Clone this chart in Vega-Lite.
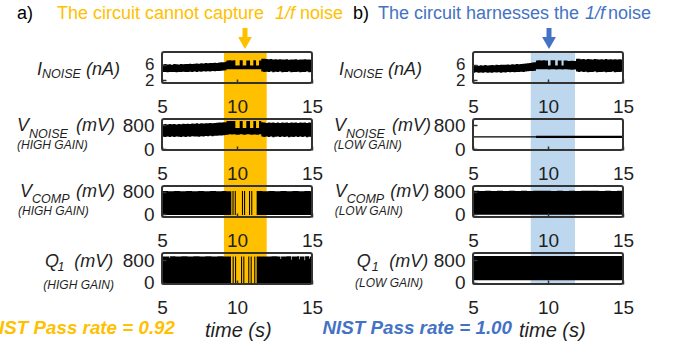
{
  "$schema": "https://vega.github.io/schema/vega-lite/v6.json",
  "padding": {"left": -15, "top": 5, "right": 0, "bottom": 0},
  "config": {
    "font": "Liberation Sans",
    "view": {"stroke": null},
    "axis": {"grid": false, "domain": false, "ticks": true, "tickSize": -4, "tickColor": "#333", "tickWidth": 1.5,
             "labelFontSize": 19, "labelColor": "#1f1f1f", "zindex": 2, "labelFlush": false, "labelOverlap": false},
    "axisX": {"labelPadding": 18.6},
    "axisY": {"labelPadding": 12},
    "text": {"baseline": "alphabetic", "align": "left", "color": "#1f1f1f"}
  },
  "bounds": "flush",
  "columns": 2,
  "spacing": {"row": 36, "column": 161},
  "resolve": {"scale": {"x": "independent", "y": "independent"}},
  "datasets": {
    "bandL": [{"start": 9.13, "end": 11.98}],
    "bandR": [{"start": 8.85, "end": 11.8}],
    "iL": [
      {"t":5.0,"lo":4.15,"hi":6.1},{"t":5.15,"lo":4.2,"hi":6.2},{"t":5.3,"lo":4.1,"hi":6.1},{"t":5.45,"lo":4.2,"hi":6.15},
      {"t":5.6,"lo":4.15,"hi":6.05},{"t":5.75,"lo":4.2,"hi":6.2},{"t":5.9,"lo":4.1,"hi":6.15},{"t":6.05,"lo":4.2,"hi":6.1},
      {"t":6.2,"lo":4.15,"hi":6.2},{"t":6.35,"lo":4.25,"hi":6.15},{"t":6.5,"lo":4.2,"hi":6.25},{"t":6.65,"lo":4.15,"hi":6.2},
      {"t":6.8,"lo":4.25,"hi":6.3},{"t":6.95,"lo":4.2,"hi":6.25},{"t":7.1,"lo":4.3,"hi":6.3},{"t":7.25,"lo":4.2,"hi":6.35},
      {"t":7.4,"lo":4.3,"hi":6.3},{"t":7.55,"lo":4.25,"hi":6.4},{"t":7.7,"lo":4.35,"hi":6.35},{"t":7.85,"lo":4.3,"hi":6.45},
      {"t":8.0,"lo":4.35,"hi":6.4},{"t":8.15,"lo":4.3,"hi":6.5},{"t":8.3,"lo":4.4,"hi":6.45},{"t":8.45,"lo":4.35,"hi":6.55},
      {"t":8.6,"lo":4.45,"hi":6.5},{"t":8.75,"lo":4.4,"hi":6.6},{"t":8.9,"lo":4.5,"hi":6.65},{"t":9.05,"lo":4.55,"hi":6.7},
      {"t":9.2,"lo":4.6,"hi":6.8},{"t":9.3,"lo":4.85,"hi":7.15},{"t":9.45,"lo":4.9,"hi":7.2},{"t":9.6,"lo":4.85,"hi":7.15},
      {"t":9.75,"lo":4.9,"hi":7.2},{"t":9.89,"lo":4.85,"hi":5.85},{"t":10.18,"lo":4.9,"hi":7.2},{"t":10.38,"lo":4.85,"hi":5.85},
      {"t":10.62,"lo":4.9,"hi":7.15},{"t":10.87,"lo":4.85,"hi":5.85},{"t":11.09,"lo":4.9,"hi":7.2},{"t":11.27,"lo":4.85,"hi":5.85},
      {"t":11.47,"lo":4.9,"hi":7.15},{"t":11.62,"lo":4.3,"hi":7.6},{"t":11.75,"lo":4.2,"hi":7.55},{"t":11.9,"lo":4.25,"hi":7.5},
      {"t":12.05,"lo":4.15,"hi":7.45},{"t":12.2,"lo":4.3,"hi":7.5},{"t":12.35,"lo":4.1,"hi":7.4},{"t":12.5,"lo":4.25,"hi":7.45},
      {"t":12.65,"lo":4.15,"hi":7.35},{"t":12.8,"lo":4.3,"hi":7.45},{"t":12.95,"lo":4.1,"hi":7.4},{"t":13.1,"lo":4.2,"hi":7.35},
      {"t":13.25,"lo":4.15,"hi":7.45},{"t":13.4,"lo":4.3,"hi":7.3},{"t":13.55,"lo":4.1,"hi":7.4},{"t":13.7,"lo":4.2,"hi":7.35},
      {"t":13.85,"lo":4.15,"hi":7.45},{"t":14.0,"lo":4.25,"hi":7.3},{"t":14.15,"lo":4.1,"hi":7.4},{"t":14.3,"lo":4.2,"hi":7.35},
      {"t":14.45,"lo":4.15,"hi":7.45},{"t":14.6,"lo":4.3,"hi":7.35},{"t":14.75,"lo":4.1,"hi":7.4},{"t":14.9,"lo":4.2,"hi":7.3},
      {"t":15.0,"lo":4.2,"hi":7.3}
    ],
    "iR": [
      {"t":5.0,"lo":4.0,"hi":5.85},{"t":5.15,"lo":4.1,"hi":5.95},{"t":5.3,"lo":3.95,"hi":5.8},{"t":5.45,"lo":4.05,"hi":5.9},
      {"t":5.6,"lo":4.0,"hi":5.85},{"t":5.75,"lo":4.1,"hi":5.95},{"t":5.9,"lo":3.95,"hi":5.85},{"t":6.05,"lo":4.05,"hi":5.9},
      {"t":6.2,"lo":4.0,"hi":5.95},{"t":6.35,"lo":4.1,"hi":5.9},{"t":6.5,"lo":4.05,"hi":6.0},{"t":6.65,"lo":4.1,"hi":5.95},
      {"t":6.8,"lo":4.0,"hi":6.0},{"t":6.95,"lo":4.1,"hi":6.05},{"t":7.1,"lo":4.05,"hi":6.0},{"t":7.25,"lo":4.15,"hi":6.1},
      {"t":7.4,"lo":4.1,"hi":6.05},{"t":7.55,"lo":4.15,"hi":6.15},{"t":7.7,"lo":4.1,"hi":6.1},{"t":7.85,"lo":4.2,"hi":6.2},
      {"t":8.0,"lo":4.15,"hi":6.15},{"t":8.15,"lo":4.25,"hi":6.25},{"t":8.3,"lo":4.2,"hi":6.3},{"t":8.45,"lo":4.3,"hi":6.35},
      {"t":8.6,"lo":4.35,"hi":6.4},{"t":8.75,"lo":4.4,"hi":6.5},{"t":8.9,"lo":4.45,"hi":6.6},{"t":9.05,"lo":4.5,"hi":6.7},
      {"t":9.2,"lo":4.85,"hi":7.15},{"t":9.35,"lo":4.9,"hi":7.2},{"t":9.5,"lo":4.85,"hi":7.15},{"t":9.65,"lo":4.9,"hi":7.2},
      {"t":9.8,"lo":4.85,"hi":7.15},{"t":10.0,"lo":4.8,"hi":5.85},{"t":10.17,"lo":4.9,"hi":7.2},{"t":10.48,"lo":4.8,"hi":5.85},
      {"t":10.65,"lo":4.9,"hi":7.15},{"t":10.9,"lo":4.8,"hi":5.85},{"t":11.04,"lo":4.85,"hi":7.15},{"t":11.3,"lo":4.8,"hi":7.0},
      {"t":11.5,"lo":4.75,"hi":7.05},{"t":11.7,"lo":4.8,"hi":7.0},{"t":11.87,"lo":4.3,"hi":7.6},{"t":12.0,"lo":4.2,"hi":7.55},
      {"t":12.15,"lo":4.3,"hi":7.45},{"t":12.3,"lo":4.15,"hi":7.5},{"t":12.45,"lo":4.25,"hi":7.4},{"t":12.6,"lo":4.1,"hi":7.5},
      {"t":12.75,"lo":4.2,"hi":7.45},{"t":12.9,"lo":4.15,"hi":7.4},{"t":13.05,"lo":4.3,"hi":7.5},{"t":13.2,"lo":4.1,"hi":7.45},
      {"t":13.35,"lo":4.2,"hi":7.35},{"t":13.5,"lo":4.15,"hi":7.45},{"t":13.65,"lo":4.25,"hi":7.4},{"t":13.8,"lo":4.1,"hi":7.5},
      {"t":13.95,"lo":4.2,"hi":7.35},{"t":14.1,"lo":4.15,"hi":7.45},{"t":14.25,"lo":4.3,"hi":7.4},{"t":14.4,"lo":4.1,"hi":7.45},
      {"t":14.55,"lo":4.2,"hi":7.35},{"t":14.7,"lo":4.15,"hi":7.45},{"t":14.85,"lo":4.25,"hi":7.4},{"t":15.0,"lo":4.2,"hi":7.4}
    ],
    "vL": [
      {"t":5.0,"lo":410,"hi":820},{"t":5.15,"lo":400,"hi":830},{"t":5.3,"lo":420,"hi":815},{"t":5.45,"lo":405,"hi":835},
      {"t":5.6,"lo":415,"hi":825},{"t":5.75,"lo":400,"hi":830},{"t":5.9,"lo":420,"hi":820},{"t":6.05,"lo":410,"hi":835},
      {"t":6.2,"lo":400,"hi":825},{"t":6.35,"lo":415,"hi":840},{"t":6.5,"lo":405,"hi":830},{"t":6.65,"lo":420,"hi":845},
      {"t":6.8,"lo":410,"hi":835},{"t":6.95,"lo":425,"hi":850},{"t":7.1,"lo":415,"hi":840},{"t":7.25,"lo":420,"hi":855},
      {"t":7.4,"lo":410,"hi":845},{"t":7.55,"lo":430,"hi":855},{"t":7.7,"lo":420,"hi":850},{"t":7.85,"lo":435,"hi":860},
      {"t":8.0,"lo":425,"hi":855},{"t":8.15,"lo":440,"hi":865},{"t":8.3,"lo":430,"hi":860},{"t":8.45,"lo":445,"hi":870},
      {"t":8.6,"lo":440,"hi":875},{"t":8.75,"lo":450,"hi":880},{"t":8.9,"lo":455,"hi":885},{"t":9.05,"lo":460,"hi":890},
      {"t":9.2,"lo":465,"hi":895},{"t":9.3,"lo":480,"hi":930},{"t":9.45,"lo":490,"hi":935},{"t":9.6,"lo":485,"hi":930},
      {"t":9.75,"lo":490,"hi":935},{"t":9.89,"lo":480,"hi":700},{"t":10.18,"lo":490,"hi":935},{"t":10.38,"lo":480,"hi":700},
      {"t":10.62,"lo":490,"hi":930},{"t":10.87,"lo":480,"hi":700},{"t":11.09,"lo":485,"hi":935},{"t":11.27,"lo":480,"hi":700},
      {"t":11.47,"lo":490,"hi":930},{"t":11.62,"lo":420,"hi":890},{"t":11.75,"lo":400,"hi":880},{"t":11.9,"lo":415,"hi":870},
      {"t":12.05,"lo":400,"hi":885},{"t":12.2,"lo":420,"hi":875},{"t":12.35,"lo":395,"hi":880},{"t":12.5,"lo":410,"hi":870},
      {"t":12.65,"lo":420,"hi":880},{"t":12.8,"lo":400,"hi":870},{"t":12.95,"lo":415,"hi":885},{"t":13.1,"lo":405,"hi":875},
      {"t":13.25,"lo":420,"hi":880},{"t":13.4,"lo":395,"hi":870},{"t":13.55,"lo":410,"hi":885},{"t":13.7,"lo":400,"hi":875},
      {"t":13.85,"lo":420,"hi":880},{"t":14.0,"lo":405,"hi":870},{"t":14.15,"lo":415,"hi":885},{"t":14.3,"lo":400,"hi":875},
      {"t":14.45,"lo":420,"hi":880},{"t":14.6,"lo":395,"hi":870},{"t":14.75,"lo":410,"hi":885},{"t":14.9,"lo":400,"hi":875},
      {"t":15.0,"lo":410,"hi":880}
    ],
    "vR": [
      {"t":5.0,"lo":385,"hi":430},{"t":9.2,"lo":370,"hi":445},{"t":15.0,"lo":370,"hi":445}
    ],
    "cL": [
      {"t":5.0,"lo":-25,"hi":820},{"t":5.4,"lo":-25,"hi":814},{"t":5.8,"lo":-25,"hi":824},{"t":6.2,"lo":-25,"hi":817},
      {"t":6.6,"lo":-25,"hi":822},{"t":7.0,"lo":-25,"hi":815},{"t":7.4,"lo":-25,"hi":825},{"t":7.8,"lo":-25,"hi":818},
      {"t":8.2,"lo":-25,"hi":823},{"t":8.6,"lo":-25,"hi":816},{"t":9.0,"lo":-25,"hi":821},{"t":9.3,"lo":-25,"hi":817},
      {"t":9.62,"lo":-25,"hi":-25},{"t":9.7,"lo":-25,"hi":820},{"t":9.77,"lo":-25,"hi":-25},{"t":9.85,"lo":-25,"hi":820},
      {"t":9.92,"lo":-25,"hi":-25},{"t":10.33,"lo":-25,"hi":820},{"t":10.4,"lo":-25,"hi":-25},{"t":10.47,"lo":-25,"hi":820},
      {"t":10.54,"lo":-25,"hi":-25},{"t":10.8,"lo":-25,"hi":820},{"t":10.87,"lo":-25,"hi":-25},{"t":10.95,"lo":-25,"hi":820},
      {"t":11.02,"lo":-25,"hi":-25},{"t":11.31,"lo":-25,"hi":822},{"t":11.7,"lo":-25,"hi":816},{"t":12.1,"lo":-25,"hi":824},
      {"t":12.5,"lo":-25,"hi":817},{"t":12.9,"lo":-25,"hi":822},{"t":13.3,"lo":-25,"hi":815},{"t":13.7,"lo":-25,"hi":823},
      {"t":14.1,"lo":-25,"hi":818},{"t":14.5,"lo":-25,"hi":824},{"t":14.9,"lo":-25,"hi":817},{"t":15.0,"lo":-25,"hi":820}
    ],
    "cR": [
      {"t":5.0,"lo":-20,"hi":830},{"t":5.4,"lo":-20,"hi":825},{"t":5.8,"lo":-20,"hi":832},{"t":6.2,"lo":-20,"hi":826},
      {"t":6.6,"lo":-20,"hi":830},{"t":7.0,"lo":-20,"hi":824},{"t":7.4,"lo":-20,"hi":831},{"t":7.8,"lo":-20,"hi":827},
      {"t":8.2,"lo":-20,"hi":830},{"t":8.6,"lo":-20,"hi":825},{"t":9.0,"lo":-20,"hi":832},{"t":9.4,"lo":-20,"hi":828},
      {"t":9.8,"lo":-20,"hi":830},{"t":10.2,"lo":-20,"hi":826},{"t":10.6,"lo":-20,"hi":831},{"t":11.0,"lo":-20,"hi":827},
      {"t":11.4,"lo":-20,"hi":830},{"t":11.8,"lo":-20,"hi":825},{"t":12.2,"lo":-20,"hi":832},{"t":12.6,"lo":-20,"hi":828},
      {"t":13.0,"lo":-20,"hi":830},{"t":13.4,"lo":-20,"hi":826},{"t":13.8,"lo":-20,"hi":831},{"t":14.2,"lo":-20,"hi":827},
      {"t":14.6,"lo":-20,"hi":830},{"t":15.0,"lo":-20,"hi":830}
    ],
    "qL": [
      {"t":5.0,"lo":-15,"hi":940},{"t":5.3,"lo":-15,"hi":935},{"t":5.5,"lo":-15,"hi":880},{"t":5.54,"lo":-15,"hi":942},
      {"t":5.9,"lo":-15,"hi":936},{"t":6.3,"lo":-15,"hi":944},{"t":6.7,"lo":-15,"hi":938},{"t":7.1,"lo":-15,"hi":943},
      {"t":7.5,"lo":-15,"hi":936},{"t":7.9,"lo":-15,"hi":941},{"t":8.3,"lo":-15,"hi":937},{"t":8.7,"lo":-15,"hi":944},
      {"t":9.1,"lo":-15,"hi":938},{"t":9.6,"lo":-15,"hi":-15},{"t":9.71,"lo":-15,"hi":940},{"t":9.78,"lo":-15,"hi":-15},
      {"t":9.87,"lo":-15,"hi":940},{"t":9.94,"lo":-15,"hi":-15},{"t":10.27,"lo":-15,"hi":940},{"t":10.34,"lo":-15,"hi":-15},
      {"t":10.42,"lo":-15,"hi":940},{"t":10.49,"lo":-15,"hi":-15},{"t":10.75,"lo":-15,"hi":940},{"t":10.82,"lo":-15,"hi":-15},
      {"t":10.91,"lo":-15,"hi":940},{"t":10.98,"lo":-15,"hi":-15},{"t":11.15,"lo":-15,"hi":940},{"t":11.22,"lo":-15,"hi":-15},
      {"t":11.31,"lo":-15,"hi":940},{"t":11.8,"lo":-15,"hi":936},{"t":12.3,"lo":-15,"hi":943},{"t":12.7,"lo":-15,"hi":937},
      {"t":12.9,"lo":-15,"hi":850},{"t":12.94,"lo":-15,"hi":940},{"t":13.3,"lo":-15,"hi":944},{"t":13.6,"lo":-15,"hi":820},
      {"t":13.64,"lo":-15,"hi":938},{"t":14.0,"lo":-15,"hi":942},{"t":14.15,"lo":-15,"hi":840},{"t":14.19,"lo":-15,"hi":937},
      {"t":14.5,"lo":-15,"hi":800},{"t":14.54,"lo":-15,"hi":941},{"t":14.8,"lo":-15,"hi":860},{"t":14.84,"lo":-15,"hi":938},
      {"t":15.0,"lo":-15,"hi":940}
    ],
    "qR": [
      {"t":5.0,"lo":90,"hi":955},{"t":5.5,"lo":90,"hi":950},{"t":6.0,"lo":90,"hi":958},{"t":6.5,"lo":90,"hi":952},
      {"t":7.0,"lo":90,"hi":956},{"t":7.5,"lo":90,"hi":951},{"t":8.0,"lo":90,"hi":957},{"t":8.5,"lo":90,"hi":953},
      {"t":9.0,"lo":90,"hi":955},{"t":9.5,"lo":90,"hi":950},{"t":10.0,"lo":90,"hi":958},{"t":10.5,"lo":90,"hi":952},
      {"t":11.0,"lo":90,"hi":956},{"t":11.5,"lo":90,"hi":951},{"t":12.0,"lo":90,"hi":957},{"t":12.5,"lo":90,"hi":953},
      {"t":13.0,"lo":90,"hi":955},{"t":13.5,"lo":90,"hi":950},{"t":14.0,"lo":90,"hi":958},{"t":14.5,"lo":90,"hi":952},
      {"t":15.0,"lo":90,"hi":955}
    ]
  },
  "concat": [
    {
      "width": 150, "height": 31,
      "layer": [
        {"data": {"name": "bandL"}, "mark": {"type": "rect", "color": "#FFC000"},
         "encoding": {
           "x": {"field": "start", "type": "quantitative", "scale": {"domain": [5, 15], "nice": false, "zero": false}, "axis": {"values": [5, 10, 15], "title": null, "zindex": 2}},
           "x2": {"field": "end"},
           "y": {"datum": 9.3, "type": "quantitative", "scale": {"domain": [1.35, 9.3], "nice": false, "zero": false}, "axis": {"values": [2, 6], "title": null, "zindex": 2, "labelFontSize": 17}},
           "y2": {"datum": -7.88}}},
        {"data": {"name": "iL"}, "mark": {"type": "area", "interpolate": "step-after", "color": "#000"},
         "encoding": {"x": {"field": "t", "type": "quantitative"}, "y": {"field": "hi", "type": "quantitative"}, "y2": {"field": "lo"}}},
        {"data": {"values": [{}]}, "mark": {"type": "rect", "filled": false, "stroke": "#333", "strokeWidth": 2, "cornerRadius": 2},
         "encoding": {"x": {"datum": 5}, "x2": {"datum": 15}, "y": {"datum": 9.3}, "y2": {"datum": 1.35}}},
        {"data": {"values": [{}]}, "mark": {"type": "text", "fontSize": 18, "color": "#000"},
         "encoding": {"x": {"datum": -4.667}, "y": {"datum": 17.68}, "text": {"value": "a)"}}},
        {"data": {"values": [{}]}, "mark": {"type": "text", "fontSize": 18, "color": "#FFC000"},
         "encoding": {"x": {"datum": -2.0}, "y": {"datum": 17.68}, "text": {"value": "The circuit cannot capture"}}},
        {"data": {"values": [{}]}, "mark": {"type": "text", "fontSize": 18, "fontStyle": "italic", "color": "#FFC000"},
         "encoding": {"x": {"datum": 12.533}, "y": {"datum": 17.68}, "text": {"value": "1/f"}}},
        {"data": {"values": [{}]}, "mark": {"type": "text", "fontSize": 18, "color": "#FFC000"},
         "encoding": {"x": {"datum": 14.2}, "y": {"datum": 17.68}, "text": {"value": "noise"}}},
        {"data": {"values": [{}]}, "mark": {"type": "rule", "color": "#FFC000", "strokeWidth": 5},
         "encoding": {"x": {"datum": 10.533}, "y": {"datum": 15.45}, "y2": {"datum": 12.3}}},
        {"data": {"values": [{}]}, "mark": {"type": "point", "shape": "triangle-down", "filled": true, "opacity": 1, "color": "#FFC000", "size": 190},
         "encoding": {"x": {"datum": 10.533}, "y": {"datum": 11.6}}},
        {"data": {"values": [{}]}, "mark": {"type": "text", "fontSize": 18, "fontStyle": "italic"},
         "encoding": {"x": {"datum": -3.333}, "y": {"datum": 3.4}, "text": {"value": "I"}}},
        {"data": {"values": [{}]}, "mark": {"type": "text", "fontSize": 12.5, "fontStyle": "italic"},
         "encoding": {"x": {"datum": -3.0}, "y": {"datum": 2.71}, "text": {"value": "NOISE"}}},
        {"data": {"values": [{}]}, "mark": {"type": "text", "fontSize": 18, "fontStyle": "italic", "align": "right"},
         "encoding": {"x": {"datum": 2.2}, "y": {"datum": 3.4}, "text": {"value": "(nA)"}}}
      ]
    },
    {
      "width": 150, "height": 31,
      "layer": [
        {"data": {"name": "bandR"}, "mark": {"type": "rect", "color": "#BDD7EE"},
         "encoding": {
           "x": {"field": "start", "type": "quantitative", "scale": {"domain": [5, 15], "nice": false, "zero": false}, "axis": {"values": [5, 10, 15], "title": null, "zindex": 2}},
           "x2": {"field": "end"},
           "y": {"datum": 9.3, "type": "quantitative", "scale": {"domain": [1.35, 9.3], "nice": false, "zero": false}, "axis": {"values": [2, 6], "title": null, "zindex": 2, "labelFontSize": 17}},
           "y2": {"datum": -7.88}}},
        {"data": {"name": "iR"}, "mark": {"type": "area", "interpolate": "step-after", "color": "#000"},
         "encoding": {"x": {"field": "t", "type": "quantitative"}, "y": {"field": "hi", "type": "quantitative"}, "y2": {"field": "lo"}}},
        {"data": {"values": [{}]}, "mark": {"type": "rect", "filled": false, "stroke": "#333", "strokeWidth": 2, "cornerRadius": 2},
         "encoding": {"x": {"datum": 5}, "x2": {"datum": 15}, "y": {"datum": 9.3}, "y2": {"datum": 1.35}}},
        {"data": {"values": [{}]}, "mark": {"type": "text", "fontSize": 18, "color": "#000"},
         "encoding": {"x": {"datum": -3.0}, "y": {"datum": 17.68}, "text": {"value": "b)"}}},
        {"data": {"values": [{}]}, "mark": {"type": "text", "fontSize": 18, "color": "#4472C4"},
         "encoding": {"x": {"datum": -1.333}, "y": {"datum": 17.68}, "text": {"value": "The circuit harnesses the"}}},
        {"data": {"values": [{}]}, "mark": {"type": "text", "fontSize": 18, "fontStyle": "italic", "color": "#4472C4"},
         "encoding": {"x": {"datum": 12.467}, "y": {"datum": 17.68}, "text": {"value": "1/f"}}},
        {"data": {"values": [{}]}, "mark": {"type": "text", "fontSize": 18, "color": "#4472C4"},
         "encoding": {"x": {"datum": 14.0}, "y": {"datum": 17.68}, "text": {"value": "noise"}}},
        {"data": {"values": [{}]}, "mark": {"type": "rule", "color": "#4472C4", "strokeWidth": 5},
         "encoding": {"x": {"datum": 10.067}, "y": {"datum": 15.45}, "y2": {"datum": 12.3}}},
        {"data": {"values": [{}]}, "mark": {"type": "point", "shape": "triangle-down", "filled": true, "opacity": 1, "color": "#4472C4", "size": 190},
         "encoding": {"x": {"datum": 10.067}, "y": {"datum": 11.6}}},
        {"data": {"values": [{}]}, "mark": {"type": "text", "fontSize": 18, "fontStyle": "italic"},
         "encoding": {"x": {"datum": -3.933}, "y": {"datum": 3.4}, "text": {"value": "I"}}},
        {"data": {"values": [{}]}, "mark": {"type": "text", "fontSize": 12.5, "fontStyle": "italic"},
         "encoding": {"x": {"datum": -3.6}, "y": {"datum": 2.71}, "text": {"value": "NOISE"}}},
        {"data": {"values": [{}]}, "mark": {"type": "text", "fontSize": 18, "fontStyle": "italic", "align": "right"},
         "encoding": {"x": {"datum": 1.6}, "y": {"datum": 3.4}, "text": {"value": "(nA)"}}}
      ]
    },
    {
      "width": 150, "height": 31,
      "layer": [
        {"data": {"name": "bandL"}, "mark": {"type": "rect", "color": "#FFC000"},
         "encoding": {
           "x": {"field": "start", "type": "quantitative", "scale": {"domain": [5, 15], "nice": false, "zero": false}, "axis": {"values": [5, 10, 15], "title": null, "zindex": 2}},
           "x2": {"field": "end"},
           "y": {"datum": 1000, "type": "quantitative", "scale": {"domain": [-30, 1000], "nice": false, "zero": false}, "axis": {"values": [0, 800], "title": null, "zindex": 2}},
           "y2": {"datum": -1226}}},
        {"data": {"name": "vL"}, "mark": {"type": "area", "interpolate": "step-after", "color": "#000"},
         "encoding": {"x": {"field": "t", "type": "quantitative"}, "y": {"field": "hi", "type": "quantitative"}, "y2": {"field": "lo"}}},
        {"data": {"values": [{}]}, "mark": {"type": "rect", "filled": false, "stroke": "#333", "strokeWidth": 2, "cornerRadius": 2},
         "encoding": {"x": {"datum": 5}, "x2": {"datum": 15}, "y": {"datum": 1000}, "y2": {"datum": -30}}},
        {"data": {"values": [{}]}, "mark": {"type": "text", "fontSize": 18, "fontStyle": "italic"},
         "encoding": {"x": {"datum": -4.667}, "y": {"datum": 585}, "text": {"value": "V"}}},
        {"data": {"values": [{}]}, "mark": {"type": "text", "fontSize": 12.5, "fontStyle": "italic"},
         "encoding": {"x": {"datum": -3.867}, "y": {"datum": 379}, "text": {"value": "NOISE"}}},
        {"data": {"values": [{}]}, "mark": {"type": "text", "fontSize": 18, "fontStyle": "italic", "align": "right"},
         "encoding": {"x": {"datum": 1.867}, "y": {"datum": 585}, "text": {"value": "(mV)"}}},
        {"data": {"values": [{}]}, "mark": {"type": "text", "fontSize": 12, "fontStyle": "italic"},
         "encoding": {"x": {"datum": -4.667}, "y": {"datum": -10}, "text": {"value": "(HIGH GAIN)"}}}
      ]
    },
    {
      "width": 150, "height": 31,
      "layer": [
        {"data": {"name": "bandR"}, "mark": {"type": "rect", "color": "#BDD7EE"},
         "encoding": {
           "x": {"field": "start", "type": "quantitative", "scale": {"domain": [5, 15], "nice": false, "zero": false}, "axis": {"values": [5, 10, 15], "title": null, "zindex": 2}},
           "x2": {"field": "end"},
           "y": {"datum": 1000, "type": "quantitative", "scale": {"domain": [-30, 1000], "nice": false, "zero": false}, "axis": {"values": [0, 800], "title": null, "zindex": 2}},
           "y2": {"datum": -1226}}},
        {"data": {"name": "vR"}, "mark": {"type": "area", "interpolate": "step-after", "color": "#000"},
         "encoding": {"x": {"field": "t", "type": "quantitative"}, "y": {"field": "hi", "type": "quantitative"}, "y2": {"field": "lo"}}},
        {"data": {"values": [{}]}, "mark": {"type": "rect", "filled": false, "stroke": "#333", "strokeWidth": 2, "cornerRadius": 2},
         "encoding": {"x": {"datum": 5}, "x2": {"datum": 15}, "y": {"datum": 1000}, "y2": {"datum": -30}}},
        {"data": {"values": [{}]}, "mark": {"type": "text", "fontSize": 18, "fontStyle": "italic"},
         "encoding": {"x": {"datum": -4.267}, "y": {"datum": 585}, "text": {"value": "V"}}},
        {"data": {"values": [{}]}, "mark": {"type": "text", "fontSize": 12.5, "fontStyle": "italic"},
         "encoding": {"x": {"datum": -3.467}, "y": {"datum": 379}, "text": {"value": "NOISE"}}},
        {"data": {"values": [{}]}, "mark": {"type": "text", "fontSize": 18, "fontStyle": "italic", "align": "right"},
         "encoding": {"x": {"datum": 2.2}, "y": {"datum": 585}, "text": {"value": "(mV)"}}},
        {"data": {"values": [{}]}, "mark": {"type": "text", "fontSize": 12, "fontStyle": "italic"},
         "encoding": {"x": {"datum": -4.287}, "y": {"datum": -10}, "text": {"value": "(LOW GAIN)"}}}
      ]
    },
    {
      "width": 150, "height": 31,
      "layer": [
        {"data": {"name": "bandL"}, "mark": {"type": "rect", "color": "#FFC000"},
         "encoding": {
           "x": {"field": "start", "type": "quantitative", "scale": {"domain": [5, 15], "nice": false, "zero": false}, "axis": {"values": [5, 10, 15], "title": null, "zindex": 2}},
           "x2": {"field": "end"},
           "y": {"datum": 1000, "type": "quantitative", "scale": {"domain": [-100, 1000], "nice": false, "zero": false}, "axis": {"values": [0, 800], "title": null, "zindex": 2}},
           "y2": {"datum": -1377}}},
        {"data": {"name": "cL"}, "mark": {"type": "area", "interpolate": "step-after", "color": "#000"},
         "encoding": {"x": {"field": "t", "type": "quantitative"}, "y": {"field": "hi", "type": "quantitative"}, "y2": {"field": "lo"}}},
        {"data": {"values": [{}]}, "mark": {"type": "rect", "filled": false, "stroke": "#333", "strokeWidth": 2, "cornerRadius": 2},
         "encoding": {"x": {"datum": 5}, "x2": {"datum": 15}, "y": {"datum": 1000}, "y2": {"datum": -100}}},
        {"data": {"values": [{}]}, "mark": {"type": "text", "fontSize": 18, "fontStyle": "italic"},
         "encoding": {"x": {"datum": -4.467}, "y": {"datum": 620}, "text": {"value": "V"}}},
        {"data": {"values": [{}]}, "mark": {"type": "text", "fontSize": 12.5, "fontStyle": "italic"},
         "encoding": {"x": {"datum": -3.667}, "y": {"datum": 407}, "text": {"value": "COMP"}}},
        {"data": {"values": [{}]}, "mark": {"type": "text", "fontSize": 18, "fontStyle": "italic", "align": "right"},
         "encoding": {"x": {"datum": 1.867}, "y": {"datum": 620}, "text": {"value": "(mV)"}}},
        {"data": {"values": [{}]}, "mark": {"type": "text", "fontSize": 12, "fontStyle": "italic"},
         "encoding": {"x": {"datum": -4.6}, "y": {"datum": -37}, "text": {"value": "(HIGH GAIN)"}}}
      ]
    },
    {
      "width": 150, "height": 31,
      "layer": [
        {"data": {"name": "bandR"}, "mark": {"type": "rect", "color": "#BDD7EE"},
         "encoding": {
           "x": {"field": "start", "type": "quantitative", "scale": {"domain": [5, 15], "nice": false, "zero": false}, "axis": {"values": [5, 10, 15], "title": null, "zindex": 2}},
           "x2": {"field": "end"},
           "y": {"datum": 1000, "type": "quantitative", "scale": {"domain": [-100, 1000], "nice": false, "zero": false}, "axis": {"values": [0, 800], "title": null, "zindex": 2}},
           "y2": {"datum": -1377}}},
        {"data": {"name": "cR"}, "mark": {"type": "area", "interpolate": "step-after", "color": "#000"},
         "encoding": {"x": {"field": "t", "type": "quantitative"}, "y": {"field": "hi", "type": "quantitative"}, "y2": {"field": "lo"}}},
        {"data": {"values": [{}]}, "mark": {"type": "rect", "filled": false, "stroke": "#333", "strokeWidth": 2, "cornerRadius": 2},
         "encoding": {"x": {"datum": 5}, "x2": {"datum": 15}, "y": {"datum": 1000}, "y2": {"datum": -100}}},
        {"data": {"values": [{}]}, "mark": {"type": "text", "fontSize": 18, "fontStyle": "italic"},
         "encoding": {"x": {"datum": -4.22}, "y": {"datum": 620}, "text": {"value": "V"}}},
        {"data": {"values": [{}]}, "mark": {"type": "text", "fontSize": 12.5, "fontStyle": "italic"},
         "encoding": {"x": {"datum": -3.42}, "y": {"datum": 407}, "text": {"value": "COMP"}}},
        {"data": {"values": [{}]}, "mark": {"type": "text", "fontSize": 18, "fontStyle": "italic", "align": "right"},
         "encoding": {"x": {"datum": 2.087}, "y": {"datum": 620}, "text": {"value": "(mV)"}}},
        {"data": {"values": [{}]}, "mark": {"type": "text", "fontSize": 12, "fontStyle": "italic"},
         "encoding": {"x": {"datum": -4.22}, "y": {"datum": -37}, "text": {"value": "(LOW GAIN)"}}}
      ]
    },
    {
      "width": 150, "height": 31,
      "layer": [
        {"data": {"name": "bandL"}, "mark": {"type": "rect", "color": "#FFC000"},
         "encoding": {
           "x": {"field": "start", "type": "quantitative", "scale": {"domain": [5, 15], "nice": false, "zero": false}, "axis": {"values": [5, 10, 15], "title": null, "zindex": 2}},
           "x2": {"field": "end"},
           "y": {"datum": 1060, "type": "quantitative", "scale": {"domain": [-40, 1060], "nice": false, "zero": false}, "axis": {"values": [0, 800], "title": null, "zindex": 2}},
           "y2": {"datum": -40}}},
        {"data": {"name": "qL"}, "mark": {"type": "area", "interpolate": "step-after", "color": "#000"},
         "encoding": {"x": {"field": "t", "type": "quantitative"}, "y": {"field": "hi", "type": "quantitative"}, "y2": {"field": "lo"}}},
        {"data": {"values": [{}]}, "mark": {"type": "rect", "filled": false, "stroke": "#333", "strokeWidth": 2, "cornerRadius": 2},
         "encoding": {"x": {"datum": 5}, "x2": {"datum": 15}, "y": {"datum": 1060}, "y2": {"datum": -40}}},
        {"data": {"values": [{}]}, "mark": {"type": "text", "fontSize": 18, "fontStyle": "italic"},
         "encoding": {"x": {"datum": -2.8}, "y": {"datum": 563}, "text": {"value": "Q"}}},
        {"data": {"values": [{}]}, "mark": {"type": "text", "fontSize": 12.5, "fontStyle": "italic"},
         "encoding": {"x": {"datum": -1.967}, "y": {"datum": 421}, "text": {"value": "1"}}},
        {"data": {"values": [{}]}, "mark": {"type": "text", "fontSize": 18, "fontStyle": "italic", "align": "right"},
         "encoding": {"x": {"datum": 1.753}, "y": {"datum": 563}, "text": {"value": "(mV)"}}},
        {"data": {"values": [{}]}, "mark": {"type": "text", "fontSize": 12, "fontStyle": "italic"},
         "encoding": {"x": {"datum": -2.913}, "y": {"datum": -200}, "text": {"value": "(HIGH GAIN)"}}},
        {"data": {"values": [{}]}, "mark": {"type": "text", "fontSize": 18.8, "fontStyle": "italic", "fontWeight": "bold", "color": "#FFC000", "align": "right"},
         "encoding": {"x": {"datum": 5.867}, "y": {"datum": -1805}, "text": {"value": "NIST Pass rate = 0.92"}}},
        {"data": {"values": [{}]}, "mark": {"type": "text", "fontSize": 20, "fontStyle": "italic"},
         "encoding": {"x": {"datum": 7.867}, "y": {"datum": -1915}, "text": {"value": "time (s)"}}}
      ]
    },
    {
      "width": 150, "height": 31,
      "layer": [
        {"data": {"name": "bandR"}, "mark": {"type": "rect", "color": "#BDD7EE"},
         "encoding": {
           "x": {"field": "start", "type": "quantitative", "scale": {"domain": [5, 15], "nice": false, "zero": false}, "axis": {"values": [5, 10, 15], "title": null, "zindex": 2}},
           "x2": {"field": "end"},
           "y": {"datum": 1060, "type": "quantitative", "scale": {"domain": [-40, 1060], "nice": false, "zero": false}, "axis": {"values": [0, 800], "title": null, "zindex": 2}},
           "y2": {"datum": -40}}},
        {"data": {"name": "qR"}, "mark": {"type": "area", "interpolate": "step-after", "color": "#000"},
         "encoding": {"x": {"field": "t", "type": "quantitative"}, "y": {"field": "hi", "type": "quantitative"}, "y2": {"field": "lo"}}},
        {"data": {"values": [{}]}, "mark": {"type": "rect", "filled": false, "stroke": "#333", "strokeWidth": 2, "cornerRadius": 2},
         "encoding": {"x": {"datum": 5}, "x2": {"datum": 15}, "y": {"datum": 1060}, "y2": {"datum": -40}}},
        {"data": {"values": [{}]}, "mark": {"type": "text", "fontSize": 18, "fontStyle": "italic"},
         "encoding": {"x": {"datum": -2.753}, "y": {"datum": 563}, "text": {"value": "Q"}}},
        {"data": {"values": [{}]}, "mark": {"type": "text", "fontSize": 12.5, "fontStyle": "italic"},
         "encoding": {"x": {"datum": -1.753}, "y": {"datum": 421}, "text": {"value": "1"}}},
        {"data": {"values": [{}]}, "mark": {"type": "text", "fontSize": 18, "fontStyle": "italic", "align": "right"},
         "encoding": {"x": {"datum": 2.02}, "y": {"datum": 563}, "text": {"value": "(mV)"}}},
        {"data": {"values": [{}]}, "mark": {"type": "text", "fontSize": 12, "fontStyle": "italic"},
         "encoding": {"x": {"datum": -2.867}, "y": {"datum": -147}, "text": {"value": "(LOW GAIN)"}}},
        {"data": {"values": [{}]}, "mark": {"type": "text", "fontSize": 18.8, "fontStyle": "italic", "fontWeight": "bold", "color": "#4472C4", "align": "right"},
         "encoding": {"x": {"datum": 7.6}, "y": {"datum": -1805}, "text": {"value": "NIST Pass rate = 1.00"}}},
        {"data": {"values": [{}]}, "mark": {"type": "text", "fontSize": 20, "fontStyle": "italic"},
         "encoding": {"x": {"datum": 8.067}, "y": {"datum": -1915}, "text": {"value": "time (s)"}}}
      ]
    }
  ]
}
